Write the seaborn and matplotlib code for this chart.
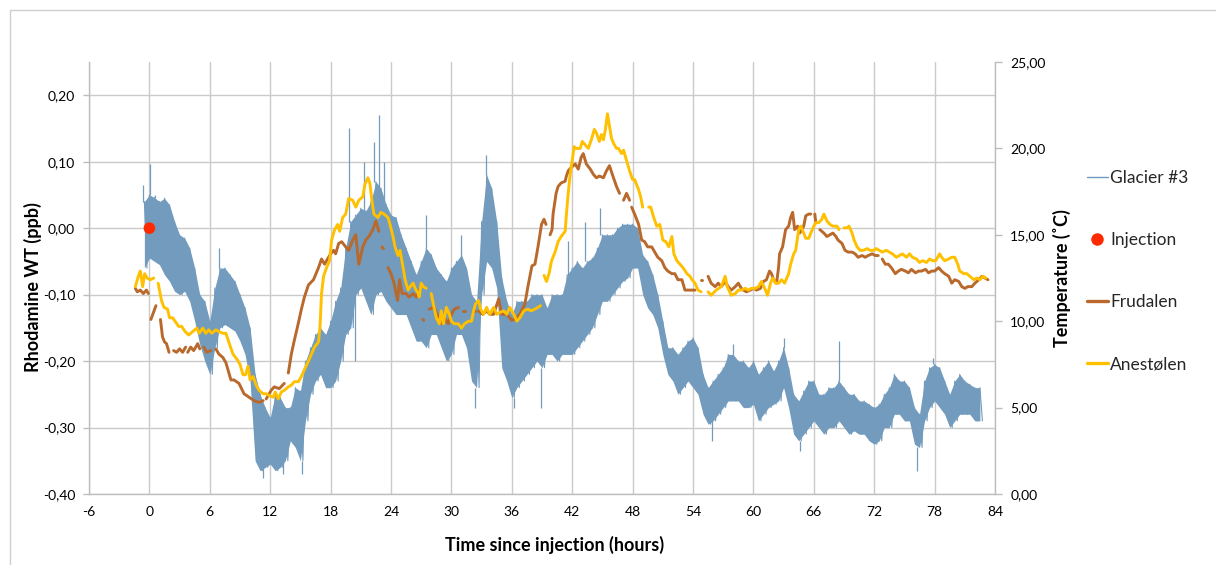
import numpy as np
import pandas as pd
import matplotlib
matplotlib.use("Agg")
import matplotlib.pyplot as plt
import seaborn as sns
from matplotlib.lines import Line2D
from matplotlib.ticker import FuncFormatter

nan = float("nan")

# ---------------- data ----------------
hour_ticks = [-6, 0, 6, 12, 18, 24, 30, 36, 42, 48, 54, 60, 66, 72, 78, 84]
rwt_ticks = [-0.40, -0.30, -0.20, -0.10, 0.00, 0.10, 0.20]
temp_ticks = [0, 5, 10, 15, 20, 25]

# Glacier #3 rhodamine signal: upper / lower edge of the noisy trace, every 0.5 h from -0.5 h
glacier_first_hour = -0.5
glacier_step = 0.5
glacier_high = [
    0.04, 0.05, 0.046, 0.04, 0.045, 0.035, 0.01, -0.01, -0.015, -0.03,
    -0.06, -0.10, -0.11, -0.14, -0.09, -0.06, -0.06, -0.07, -0.08, -0.10,
    -0.12, -0.15, -0.22, -0.25, -0.27, -0.285, -0.25, -0.255, -0.27, -0.27,
    -0.24, -0.245, -0.20, -0.18, -0.16, -0.15, -0.16, -0.14, -0.11, -0.09,
    -0.03, 0.01, 0.02, 0.03, 0.026, 0.04, 0.07, 0.06, 0.036, 0.02,
    0.016, -0.01, -0.03, -0.05, -0.07, -0.05, -0.03, -0.04, -0.06, -0.07,
    -0.08, -0.06, -0.05, -0.04, -0.06, -0.10, -0.11, 0.01, 0.08, 0.06,
    0.01, -0.075, -0.11, -0.13, -0.11, -0.11, -0.11, -0.10, -0.10, -0.10,
    -0.12, -0.10, -0.10, -0.10, -0.07, -0.06, -0.05, -0.06, -0.05, -0.045,
    -0.03, -0.01, -0.01, -0.01, 0.0, 0.006, 0.006, 0.006, 0.0, -0.04,
    -0.05, -0.07, -0.10, -0.14, -0.18, -0.18, -0.19, -0.18, -0.17, -0.165,
    -0.18, -0.22, -0.24, -0.23, -0.22, -0.21, -0.19, -0.19, -0.20, -0.20,
    -0.21, -0.20, -0.22, -0.21, -0.20, -0.215, -0.20, -0.18, -0.21, -0.25,
    -0.26, -0.245, -0.23, -0.23, -0.25, -0.25, -0.24, -0.24, -0.23, -0.24,
    -0.25, -0.25, -0.26, -0.26, -0.265, -0.27, -0.265, -0.25, -0.24, -0.22,
    -0.23, -0.23, -0.24, -0.27, -0.28, -0.23, -0.21, -0.205, -0.21, -0.23,
    -0.25, -0.23, -0.22, -0.23, -0.235, -0.24, -0.24,
]
glacier_low = [
    -0.06, -0.045, -0.05, -0.055, -0.07, -0.08, -0.095, -0.10, -0.095, -0.11,
    -0.14, -0.175, -0.20, -0.22, -0.18, -0.15, -0.145, -0.15, -0.155, -0.17,
    -0.19, -0.23, -0.35, -0.365, -0.36, -0.355, -0.365, -0.36, -0.35, -0.32,
    -0.33, -0.35, -0.29, -0.25, -0.23, -0.22, -0.24, -0.24, -0.23, -0.20,
    -0.16, -0.15, -0.10, -0.09, -0.11, -0.13, -0.10, -0.095, -0.11, -0.12,
    -0.13, -0.13, -0.13, -0.15, -0.17, -0.17, -0.18, -0.16, -0.16, -0.18,
    -0.20, -0.19, -0.16, -0.16, -0.18, -0.23, -0.24, -0.10, -0.05, -0.06,
    -0.09, -0.21, -0.23, -0.255, -0.24, -0.23, -0.22, -0.21, -0.20, -0.21,
    -0.19, -0.19, -0.20, -0.19, -0.19, -0.19, -0.18, -0.17, -0.16, -0.15,
    -0.13, -0.11, -0.11, -0.10, -0.09, -0.08, -0.075, -0.06, -0.06, -0.10,
    -0.12, -0.13, -0.15, -0.19, -0.22, -0.23, -0.25, -0.24, -0.23, -0.24,
    -0.25, -0.28, -0.295, -0.29, -0.28, -0.27, -0.26, -0.26, -0.26, -0.27,
    -0.27, -0.265, -0.29, -0.28, -0.27, -0.265, -0.26, -0.24, -0.27, -0.31,
    -0.32, -0.31, -0.30, -0.29, -0.30, -0.31, -0.30, -0.30, -0.29, -0.30,
    -0.31, -0.305, -0.31, -0.31, -0.32, -0.325, -0.32, -0.30, -0.30, -0.28,
    -0.28, -0.29, -0.29, -0.325, -0.33, -0.29, -0.27, -0.26, -0.27, -0.28,
    -0.30, -0.29, -0.28, -0.28, -0.28, -0.29, -0.29,
]
# isolated spikes of the Glacier #3 trace
glacier_spike_hours = [-0.6, 0.1, 0.6, 6.9, 11.3, 13.3, 15.2, 19.8, 20.4, 21.3, 22.3, 22.8,
                       23.3, 27.5, 31.0, 32.3, 33.4, 36.2, 38.95, 41.6, 43.3, 44.8, 55.9,
                       58.0, 63.0, 64.6, 68.5, 76.3, 77.8]
glacier_spike_values = [0.065, 0.097, 0.05, -0.03, -0.376, -0.37, -0.37, 0.15, -0.20, 0.10, 0.13, 0.17,
                        0.10, 0.02, -0.01, -0.27, 0.11, -0.27, -0.27, -0.02, 0.01, 0.03, -0.32,
                        -0.175, -0.165, -0.335, -0.17, -0.365, -0.195]

injection_hour = [0.0]
injection_value = [0.0]

# Frudalen temperature (right axis), nan marks a gap in the record
frudalen_hours = [
    -1.4, -1.2, -0.9, -0.6, -0.3, -0.1, nan,
    0.15, 0.4, 0.65, nan,
    1.1, 1.3, 1.5, 1.7, 1.95, nan,
    2.4, 2.7, 3.0, 3.3, 3.6, nan,
    3.8, 4.1, 4.4, 4.8, 5.0, nan,
    5.4, 5.7, 6.1, nan,
    6.6, 6.9, 7.3, 7.6, 8.1, 8.4, 8.9, 9.4, 9.9, 10.4, 10.9, 11.3, nan,
    11.6, 12.1, 12.4, 12.9, 13.4, nan,
    13.8, 14.1, 14.4, 14.8, 15.1, 15.4, 15.8, 16.3, 16.8, 17.1, 17.4, 17.8, 18.0, 18.3,
    18.5, 18.8, 19.1, 19.5, 19.8, 20.2, 20.5, 20.8, 21.2, 21.5, 21.8, 22.2, 22.5, 22.8, nan,
    23.1, 23.25, nan,
    23.7, 24.0, 24.3, 24.65, 24.85, 25.1, 25.5, 25.8, 26.2, 26.5, 26.8, nan,
    27.15, 27.25, nan,
    27.8, 28.3, 28.7, 29.0, 29.3, 29.7, 30.0, 30.3, 30.7, nan,
    31.2, 31.4, nan,
    32.1, 32.3, nan,
    32.7, 33.1, 33.5, 33.8, 34.2, 34.7, 35.0, 35.5, 36.0, 36.5, 36.8, 37.3, 37.6, 38.0,
    38.3, 38.6, 38.95, 39.2, 39.4, nan,
    39.8, 40.0, 40.1, 40.4, 40.6, 40.9, 41.3, 41.4, 41.6, 41.9, 42.3, 42.6, 42.9, 43.1,
    43.4, 43.8, 44.1, 44.4, 44.7, 45.1, 45.4, 45.7, 46.1, 46.4, 46.7, nan,
    47.1, 47.4, 47.7, nan,
    47.9, 48.2, 48.6, 48.9, 49.2, 49.5, 49.9, 50.2, 50.5, 50.9, 51.2, 51.5, 51.9, 52.2,
    52.5, 52.9, 53.2, 53.5, 53.9, 54.2, nan,
    54.75, 54.85, nan,
    55.5, 55.8, 56.2, 56.5, 56.8, 57.2, 57.5, 57.8, 58.2, 58.5, 58.8, 59.0, 59.3, 59.7,
    60.0, 60.3, 60.7, 61.0, 61.3, 61.6, 61.8, 62.0, 62.3, 62.5, 62.6, 62.9, 63.2, 63.5,
    63.7, 63.9, 64.1, 64.4, 64.6, 65.0, 65.2, 65.5, 65.7, nan,
    66.1, 66.2, nan,
    66.6, 67.0, 67.3, 67.6, 67.9, 68.2, 68.4, 68.8, 69.1, 69.4, 69.8, 70.1, 70.4, 70.8,
    71.1, 71.4, 71.8, 72.1, 72.4, nan,
    72.8, 73.1, 73.4, 73.7, 74.1, 74.4, 74.7, 75.1, 75.4, 75.7, 76.1, 76.4, 76.7, 77.1,
    77.4, 77.7, 78.0, 78.4, 78.7, 79.0, 79.4, 79.7, 80.0, 80.4, 80.7, 81.0, 81.3, 81.7,
    82.0, 82.4, 82.7, 83.0, 83.3,
]
frudalen_temp = [
    11.9, 11.7, 11.8, 11.6, 11.8, 11.6, nan,
    10.1, 10.5, 10.9, nan,
    10.1, 9.1, 8.8, 8.7, 8.2, nan,
    8.3, 8.2, 8.4, 8.2, 8.5, nan,
    8.2, 8.5, 8.3, 8.7, 8.4, nan,
    8.5, 8.2, 8.3, nan,
    8.4, 8.1, 7.9, 7.6, 6.6, 6.6, 6.4, 5.8, 5.6, 5.4, 5.3, 5.4, nan,
    5.5, 6.0, 6.2, 6.1, 6.4, nan,
    7.0, 8.1, 8.9, 9.9, 10.7, 11.4, 12.1, 12.4, 13.1, 13.6, 13.3, 13.7, 13.9, 14.1,
    13.9, 14.5, 14.6, 14.3, 14.1, 14.7, 15.0, 13.3, 14.3, 14.7, 14.9, 15.3, 15.8, 15.2, nan,
    14.3, 14.2, nan,
    13.1, 12.75, 12.2, 11.2, 12.4, 11.6, 11.6, 11.4, 11.6, 11.4, 11.8, nan,
    10.1, 10.05, nan,
    10.7, 10.8, 10.2, 9.85, 10.2, 9.85, 10.4, 10.7, 10.8, nan,
    10.6, 10.6, nan,
    10.6, 10.6, nan,
    10.6, 10.4, 10.6, 10.4, 10.4, 11.3, 10.4, 10.4, 10.05, 10.2, 10.4, 11.0, 12.0, 13.2,
    13.3, 14.3, 15.6, 15.9, 15.6, nan,
    15.0, 15.3, 16.2, 17.4, 17.8, 18.0, 18.1, 18.35, 18.7, 18.9, 19.1, 18.8, 19.5, 19.7,
    19.1, 18.8, 18.5, 18.3, 18.4, 18.3, 18.7, 19.0, 18.3, 17.8, 17.4, nan,
    17.0, 17.4, 17.0, nan,
    16.6, 16.2, 15.6, 14.7, 14.6, 14.3, 14.3, 14.0, 13.7, 13.5, 13.1, 12.9, 12.75, 12.75,
    12.4, 12.4, 11.8, 11.8, 11.8, 11.8, nan,
    12.4, 12.4, nan,
    12.6, 12.2, 12.0, 12.2, 12.0, 12.3, 12.0, 11.8, 12.0, 12.2, 11.9, 11.8, 11.7, 11.8,
    11.9, 11.8, 11.9, 12.3, 12.4, 12.9, 12.75, 12.4, 12.2, 13.1, 13.9, 14.3, 15.3, 15.5,
    16.0, 16.3, 15.3, 15.5, 15.1, 15.5, 16.1, 16.2, 16.2, nan,
    16.2, 15.7, nan,
    15.3, 15.1, 14.9, 15.0, 15.1, 14.9, 14.7, 14.5, 14.1, 14.0, 14.0, 13.9, 13.7, 13.8,
    13.7, 13.8, 13.9, 13.8, 13.8, nan,
    13.6, 13.3, 13.3, 13.1, 12.75, 12.9, 13.0, 12.9, 12.8, 13.0, 12.8, 12.9, 12.9, 13.0,
    12.8, 12.9, 12.9, 13.1, 12.9, 12.75, 12.6, 12.2, 12.4, 12.3, 12.0, 11.9, 12.0, 12.0,
    12.2, 12.4, 12.6, 12.5, 12.4,
]

# Anestolen temperature (right axis)
anestolen_hours = [
    -1.4, -1.1, -0.9, -0.67, -0.47, -0.23, 0.1, 0.43, nan,
    0.87, 1.2, 1.45, 1.8, 2.0, 2.3, 2.55, 2.9, 3.2, 3.55, 3.9, 4.3, 4.7, 4.95, 5.3, 5.6,
    5.9, 6.2, 6.6, 6.9, 7.3, 7.6, 8.0, 8.3, 8.7, 9.0, 9.3, 9.55, 9.8, 10.0, 10.3, 10.6,
    10.9, 11.3, 11.6, 11.9, 12.3, 12.5, 12.8, 13.1, 13.4, 13.8, 14.1, 14.4, 14.8, 15.1,
    15.4, 15.8, 16.1, 16.4, 16.8, 16.95, 17.1, 17.3, 17.6, 17.9, 18.1, 18.4, 18.7, 18.9,
    19.2, 19.5, 19.7, 19.8, 20.2, 20.5, 20.8, 21.2, 21.4, 21.7, 21.9, 22.1, 22.3, 22.7,
    23.0, 23.3, 23.7, 23.9, 24.2, 24.4, 24.7, 24.9, 25.2, 25.4, 25.7, 25.9, 26.2, 26.4,
    26.7, 26.8, 27.0, 27.2, 27.5, nan,
    28.0, 28.2, 28.5, 28.8, 29.0, 29.2, 29.5, 29.8, 30.0, 30.3, 30.7, 31.0, 31.3, 31.7,
    32.0, 32.2, 32.4, 32.7, 32.9, 33.2, 33.5, 33.8, 34.2, 34.5, 34.8, 35.2, 35.5, 35.8,
    36.2, 36.5, 36.8, 37.2, 37.6, 37.9, 38.3, 38.6, 38.85, nan,
    39.2, 39.45, 39.7, 39.95, 40.3, 40.6, 40.9, 41.3, 41.4, 41.6, 41.8, 42.0, 42.2, 42.4,
    42.8, 43.0, 43.3, 43.6, 43.9, 44.2, 44.4, 44.7, 44.9, 45.1, 45.3, 45.5, 45.7, 45.9,
    46.1, 46.4, 46.6, 46.9, 47.1, 47.4, 47.7, 48.0, 48.2, 48.6, 48.8, 49.0, nan,
    49.6, 49.8, 50.1, 50.4, 50.7, 51.0, 51.3, 51.6, 51.9, 52.1, 52.4, 52.7, 53.0, 53.4,
    53.7, 53.9, 54.2, 54.5, 54.8, nan,
    55.5, 55.8, 56.3, 56.8, 57.2, 57.4, 57.8, 58.2, 58.5, 58.8, 59.2, 59.5, 59.8, 60.2,
    60.5, 60.8, 61.2, 61.4, 61.7, 61.9, 62.2, 62.5, 62.8, 63.1, 63.5, 63.7, 64.0, 64.2,
    64.5, 64.7, 65.0, 65.2, 65.5, 65.7, 66.0, 66.2, 66.5, 66.8, 67.0, 67.3, 67.6, 67.9,
    68.3, 68.5, nan,
    69.0, 69.3, 69.5, 69.8, 70.0, 70.3, 70.6, 70.9, 71.3, 71.6, 71.9, 72.2, 72.5, 72.8,
    73.2, 73.5, 73.8, 74.2, 74.5, 74.8, 75.2, 75.5, 75.8, 76.2, 76.5, 76.8, 77.2, 77.5,
    77.8, 78.1, 78.5, 78.7, 79.0, 79.4, 79.7, 80.0, 80.3, 80.5, 80.9, 81.2, 81.5, 81.9,
    82.2, 82.5, 82.8, 83.1,
]
anestolen_temp = [
    12.0, 12.6, 12.9, 12.0, 12.75, 12.5, 12.4, 12.5, nan,
    12.2, 11.2, 10.8, 10.7, 10.2, 10.2, 10.0, 9.7, 9.7, 9.4, 9.2, 9.4, 9.6, 9.3, 9.6, 9.3,
    9.5, 9.3, 9.5, 9.4, 9.3, 9.3, 8.6, 8.1, 7.8, 7.5, 6.9, 6.9, 7.4, 6.6, 6.8, 6.3,
    6.0, 5.8, 5.8, 5.7, 5.6, 5.9, 5.5, 5.9, 6.0, 6.2, 6.3, 6.5, 6.5, 6.8,
    7.2, 7.7, 8.1, 8.5, 8.8, 9.7, 11.6, 12.6, 13.1, 13.5, 14.7, 15.3, 15.6, 15.2,
    16.0, 16.2, 16.8, 17.1, 17.0, 16.6, 17.0, 17.2, 17.9, 18.3, 18.0, 17.0, 16.2, 16.0,
    16.3, 16.2, 16.0, 15.6, 14.9, 14.3, 13.8, 14.1, 13.1, 12.4, 11.8, 12.0, 12.2, 11.9,
    11.6, 11.4, 12.2, 12.0, 11.9, nan,
    11.6, 11.0, 10.2, 9.85, 10.6, 9.85, 10.8, 10.4, 10.0, 9.85, 9.85, 9.6, 9.85, 10.0,
    10.0, 10.6, 11.0, 11.2, 10.7, 10.4, 10.8, 10.4, 10.8, 10.4, 10.5, 10.6, 10.4, 10.8,
    10.4, 10.0, 10.2, 10.6, 10.7, 10.6, 10.7, 10.8, 10.9, nan,
    12.65, 12.3, 12.75, 13.5, 14.0, 14.6, 14.9, 15.2, 16.0, 17.4, 18.5, 19.3, 20.1, 20.0,
    20.0, 20.4, 20.2, 20.0, 20.5, 21.1, 20.9, 20.4, 20.8, 20.5, 21.1, 22.0, 21.3, 20.6,
    20.3, 20.0, 20.0, 19.7, 19.9, 19.3, 18.7, 18.2, 18.2, 17.6, 17.2, 16.6, nan,
    16.6, 16.6, 16.0, 15.5, 15.6, 14.7, 14.6, 14.3, 14.9, 13.9, 13.5, 13.3, 13.1, 12.75,
    12.6, 12.4, 12.2, 11.8, 11.7, nan,
    11.7, 11.5, 11.8, 12.0, 12.6, 12.0, 11.5, 11.6, 11.8, 11.8, 11.9, 11.8, 11.9, 11.9,
    12.0, 12.3, 11.8, 11.5, 12.2, 12.5, 12.2, 12.2, 12.4, 12.2, 12.75, 13.3, 13.9, 14.1,
    15.3, 15.5, 15.1, 14.8, 14.8, 15.1, 15.5, 15.7, 15.7, 15.9, 16.2, 15.8, 15.6, 15.5,
    15.5, 15.3, nan,
    15.4, 15.4, 15.5, 15.1, 14.7, 14.3, 14.1, 14.1, 14.2, 14.1, 14.1, 14.2, 14.1, 14.0,
    14.1, 14.0, 13.9, 13.7, 13.8, 13.9, 13.7, 13.9, 13.7, 13.6, 13.4, 13.5, 13.4, 13.6,
    13.5, 13.5, 13.9, 13.7, 13.5, 13.6, 13.7, 13.7, 13.3, 12.9, 12.75, 12.75, 12.6, 12.4,
    12.5, 12.4, 12.6, 12.5,
]

legend_labels = ["Glacier #3", "Injection", "Frudalen", "Anestølen"]

# ---------------- styling ----------------
BLUE = "#729bbd"
RED = "#ff2a00"
BROWN = "#b8692b"
GOLD = "#ffc000"
GRID = "#cacaca"
SPINE = "#bdbdbd"

sns.set_style("white")
plt.rcParams["font.family"] = ["Lato", "DejaVu Sans"]

W, H = 1216, 565
fig = plt.figure(figsize=(W / 100, H / 100), dpi=100)
ax = fig.add_axes([89 / W, 71 / H, 906 / W, 432 / H])
ax2 = ax.twinx()


def to_segments(hours, values, name):
    rows, seg = [], 0
    for h, v in zip(hours, values):
        if np.isnan(h) or np.isnan(v):
            seg += 1
            continue
        rows.append((h, v, seg))
    return pd.DataFrame(rows, columns=["hour", name, "seg"])


# Glacier #3: filled envelope + zig-zag trace through the read edges
g_hours = glacier_first_hour + glacier_step * np.arange(len(glacier_high))
g_high = np.array(glacier_high)
g_low = np.array(glacier_low)
ax.fill_between(g_hours, g_low, g_high, color=BLUE, alpha=1.0, lw=0, zorder=2)
zz = pd.DataFrame({
    "hour": np.ravel(np.column_stack([g_hours, g_hours + glacier_step / 2])),
    "rwt": np.ravel(np.column_stack([g_high, g_low])),
})
sns.lineplot(data=zz, x="hour", y="rwt", estimator=None, sort=False,
             color=BLUE, lw=0.8, ax=ax, zorder=3)
for sh, sv in zip(glacier_spike_hours, glacier_spike_values):
    i = int(np.abs(g_hours - sh).argmin())
    base = g_high[i] if sv > g_high[i] else g_low[i]
    ax.vlines(sh, min(base, sv), max(base, sv), colors=BLUE, lw=0.9, zorder=3)

sns.scatterplot(x=injection_hour, y=injection_value, color=RED, s=70,
                edgecolor="none", ax=ax, zorder=6)

# temperatures on the secondary axis
fr = to_segments(frudalen_hours, frudalen_temp, "temp")
an = to_segments(anestolen_hours, anestolen_temp, "temp")
sns.lineplot(data=fr, x="hour", y="temp", units="seg", estimator=None,
             color=BROWN, lw=2.1, ax=ax2, zorder=4)
sns.lineplot(data=an, x="hour", y="temp", units="seg", estimator=None,
             color=GOLD, lw=2.1, ax=ax2, zorder=5)

# ---------------- axes ----------------
ax.set_xlim(-6, 84)
ax.set_ylim(-0.40, 0.25)
ax.set_xticks(hour_ticks)
ax.set_yticks(rwt_ticks)
ax.xaxis.set_major_formatter(FuncFormatter(lambda v, p: f"{int(round(v))}"))
ax.yaxis.set_major_formatter(FuncFormatter(lambda v, p: f"{v:.2f}".replace(".", ",").replace("-0,00", "0,00")))
ax2.set_ylim(0, 25)
ax2.set_yticks(temp_ticks)
ax2.yaxis.set_major_formatter(FuncFormatter(lambda v, p: f"{v:.2f}".replace(".", ",")))

ax.grid(True, color=GRID, lw=1.0)
ax.set_axisbelow(True)
ax2.grid(False)

for s in ["top", "right"]:
    ax.spines[s].set_visible(False)
for s in ["left", "bottom"]:
    ax.spines[s].set_color(SPINE)
    ax.spines[s].set_linewidth(1.0)
for s in ["top", "left", "bottom"]:
    ax2.spines[s].set_visible(False)
ax2.spines["right"].set_color(SPINE)
ax2.spines["right"].set_linewidth(1.0)

ax.tick_params(axis="y", which="major", length=4, width=1, color=SPINE, pad=6.0,
               labelsize=10, labelcolor="black", left=True)
ax.tick_params(axis="x", which="major", length=0, pad=9, labelsize=10, labelcolor="black")
ax2.tick_params(axis="y", which="major", length=5, width=1, color=SPINE, pad=6.0,
                labelsize=10, labelcolor="black", right=True)

lab_kw = dict(fontsize=13, fontweight="bold", color="black")
ax.set_xlabel("Time since injection (hours)", **lab_kw)
ax.set_ylabel("Rhodamine WT (ppb)", **lab_kw)
ax2.set_ylabel("Temperature (˚C)", **lab_kw)
ax.xaxis.set_label_coords(0.514, -0.098)
ax.yaxis.set_label_coords(-0.052, 0.48)
ax2.yaxis.set_label_coords(1.064, 0.50)

# ---------------- legend ----------------
handles = [
    Line2D([], [], color=BLUE, lw=1.0),
    Line2D([], [], color=RED, marker="o", ls="none", markersize=9, markeredgewidth=0),
    Line2D([], [], color=BROWN, lw=2.4),
    Line2D([], [], color=GOLD, lw=2.4),
]
fig.legend(handles, legend_labels, loc="upper left",
           bbox_to_anchor=(1087 / W, 1 - 170 / H), frameon=False,
           fontsize=12.5, labelspacing=2.66, handlelength=1.2,
           handletextpad=0.15, borderpad=0, borderaxespad=0)

# chart-area border (left and top edges visible in the crop)
fig.add_artist(Line2D([10 / W, 10 / W], [0, 1 - 10 / H], transform=fig.transFigure,
                      color="#cfcfcf", lw=1.0))
fig.add_artist(Line2D([10 / W, 1], [1 - 10 / H, 1 - 10 / H], transform=fig.transFigure,
                      color="#cfcfcf", lw=1.0))

fig.savefig("out.png", dpi=100)
